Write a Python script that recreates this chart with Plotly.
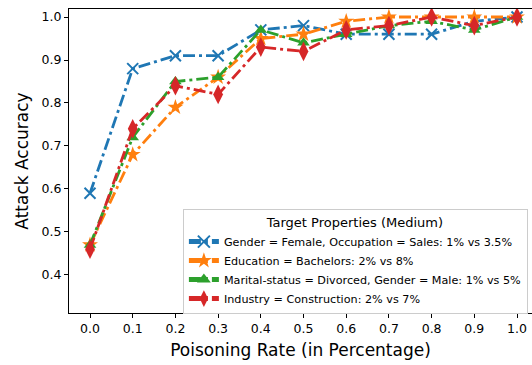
import plotly.graph_objects as go

rates = [0.0, 0.1, 0.2, 0.3, 0.4, 0.5, 0.6, 0.7, 0.8, 0.9, 1.0]
gender_occ = [0.59, 0.88, 0.91, 0.91, 0.97, 0.98, 0.96, 0.96, 0.96, 0.99, 1.0]
education = [0.47, 0.68, 0.79, 0.86, 0.95, 0.96, 0.99, 1.0, 1.0, 1.0, 1.0]
marital = [0.47, 0.72, 0.85, 0.86, 0.97, 0.94, 0.96, 0.98, 0.99, 0.97, 1.0]
industry = [0.46, 0.74, 0.84, 0.82, 0.93, 0.92, 0.97, 0.98, 1.0, 0.98, 1.0]

names = [
    "Gender = Female, Occupation = Sales: 1% vs 3.5%",
    "Education = Bachelors: 2% vs 8%",
    "Marital-status = Divorced, Gender = Male: 1% vs 5%",
    "Industry = Construction: 2% vs 7%",
]
series = [gender_occ, education, marital, industry]
colors = ["#1f77b4", "#ff7f0e", "#2ca02c", "#d62728"]
symbols = ["x-thin-open", "star", "triangle-up", "diamond-tall"]
sizes = [11, 12, 11, 14]

x_ticks = [0.0, 0.1, 0.2, 0.3, 0.4, 0.5, 0.6, 0.7, 0.8, 0.9, 1.0]
y_ticks = [0.4, 0.5, 0.6, 0.7, 0.8, 0.9, 1.0]

fig = go.Figure()
for name, ys, c, s, sz in zip(names, series, colors, symbols, sizes):
    fig.add_trace(go.Scatter(
        x=rates, y=ys, name=name, mode="lines+markers",
        line=dict(color=c, width=2.8, dash="12px,4px,3px,4px"),
        marker=dict(symbol=s, size=sz, color=c,
                    line=dict(color=c, width=2 if s == "x-thin-open" else 0)),
    ))

font = "DejaVu Sans, Arial, sans-serif"
fig.update_layout(
    width=532, height=365,
    margin=dict(l=69, r=0, t=9, b=52, autoexpand=False),
    plot_bgcolor="white", paper_bgcolor="white",
    font=dict(family=font, color="black"),
    xaxis=dict(
        range=[-0.0492, 1.0351], tickvals=x_ticks,
        ticktext=[f"{v:.1f}" for v in x_ticks], automargin=False,
        showgrid=False, zeroline=False, showline=True, linecolor="black",
        linewidth=1, mirror=True, ticks="outside", ticklen=4, tickcolor="black",
        tickfont=dict(size=12.5),
        title=dict(text="Poisoning Rate (in Percentage)", font=dict(size=17), standoff=9),
    ),
    yaxis=dict(
        range=[0.3116, 1.0186], tickvals=y_ticks,
        ticktext=[f"{v:.1f}" for v in y_ticks], automargin=False,
        showgrid=False, zeroline=False, showline=True, linecolor="black",
        linewidth=1, ticks="outside", ticklen=4, tickcolor="black",
        tickfont=dict(size=12.5),
        title=dict(text="Attack Accuracy", font=dict(size=17), standoff=8),
    ),
    legend=dict(
        title=dict(text="Target Properties (Medium)", side="top center",
                   font=dict(size=13)),
        x=0.246, y=-0.004, xanchor="left", yanchor="bottom",
        bgcolor="rgba(255,255,255,0.85)", bordercolor="#cccccc", borderwidth=1,
        font=dict(size=11.2), itemwidth=30, tracegroupgap=0,
        itemsizing="constant",
    ),
)

fig.write_html(
    "out.html",
    config={"displayModeBar": False},
    post_script="document.body.style.margin='0';document.body.style.padding='0';"
                "document.body.style.overflow='hidden';",
)
